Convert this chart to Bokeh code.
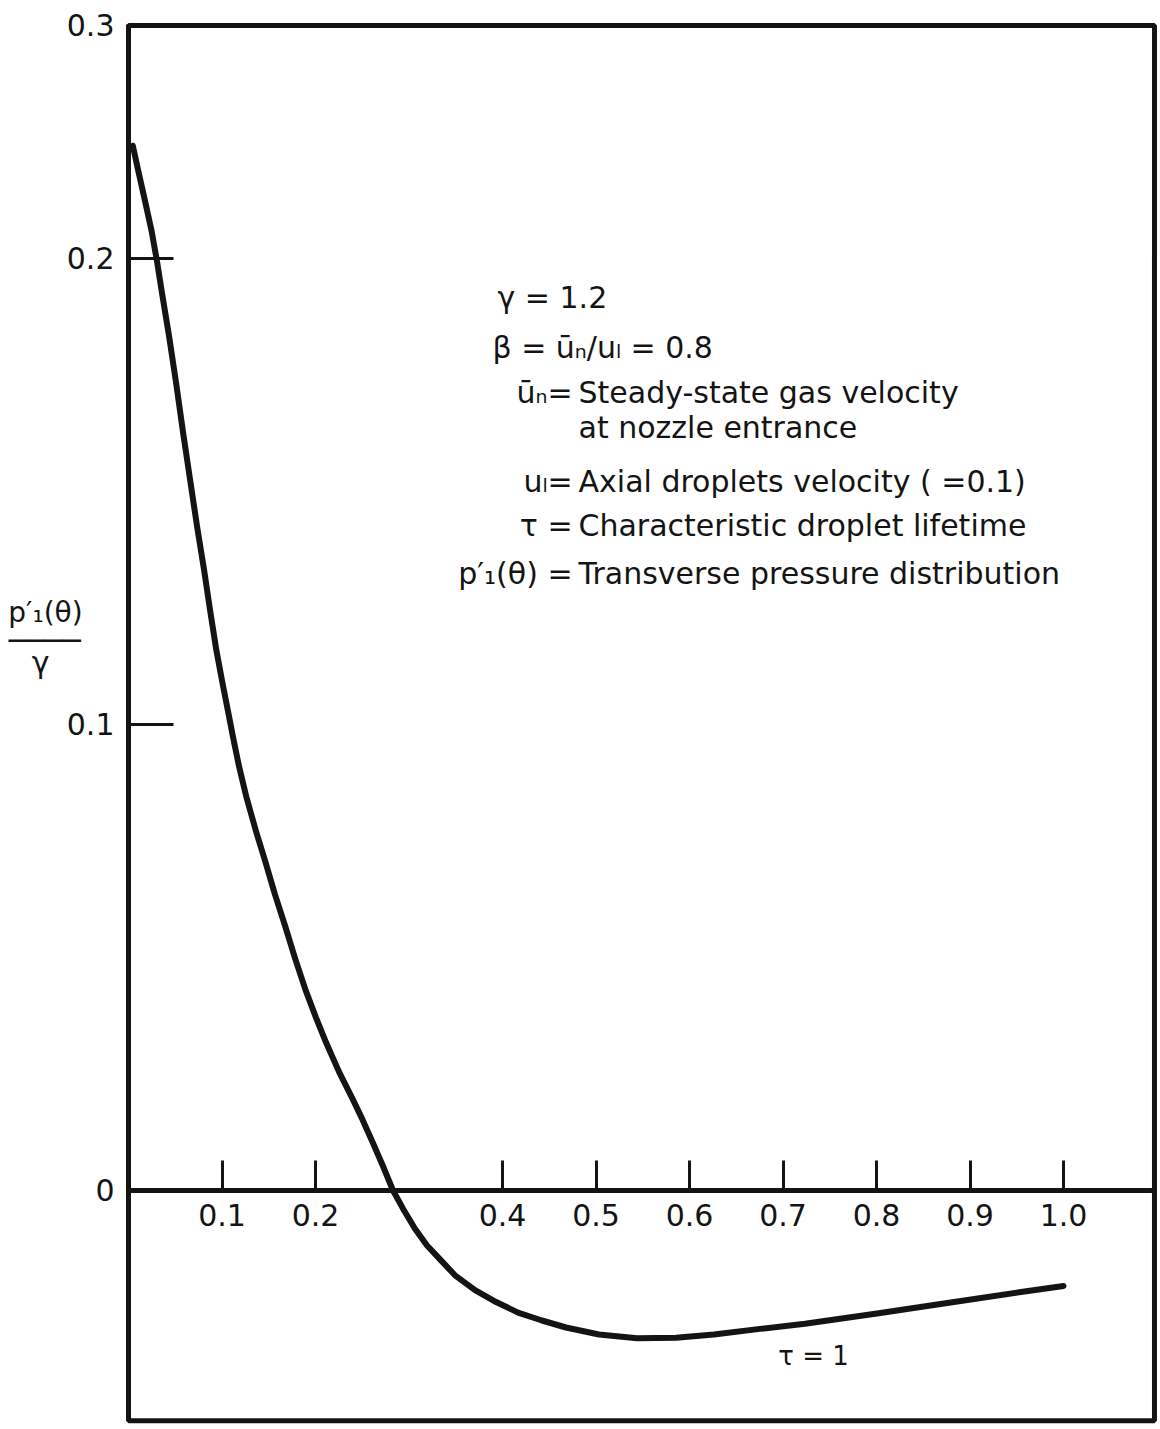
from bokeh.plotting import figure
from bokeh.models import LinearAxis, FixedTicker, BoxAnnotation, Label, Range1d
from bokeh.embed import file_html
from bokeh.resources import INLINE

# ---- data (tau = 1) ----
theta = [0.0046, 0.0101, 0.0175, 0.0248, 0.0303, 0.0359, 0.0434, 0.0509, 0.0584, 0.0659,
         0.0734, 0.0808, 0.0872, 0.0939, 0.1005, 0.1061, 0.1117, 0.1180, 0.1260, 0.1359,
         0.1457, 0.1567, 0.1676, 0.1785, 0.1894, 0.2003, 0.2112, 0.2253, 0.2395, 0.2503,
         0.2612, 0.2720, 0.2829, 0.2936, 0.3064, 0.3193, 0.3342, 0.3492, 0.3706, 0.3909,
         0.4166, 0.4422, 0.4679, 0.5032, 0.5439, 0.5856, 0.6262, 0.6754, 0.7235, 0.8005,
         0.8775, 0.9545, 1.0]
p1_over_gamma = [0.2242, 0.2191, 0.2125, 0.2058, 0.1996, 0.1925, 0.1833, 0.1733, 0.1626, 0.1525,
                 0.1424, 0.1332, 0.1246, 0.1160, 0.1089, 0.1032, 0.0974, 0.0912, 0.0845, 0.0774,
                 0.0710, 0.0635, 0.0567, 0.0496, 0.0430, 0.0372, 0.0318, 0.0254, 0.0197, 0.0152,
                 0.0103, 0.0053, 0.0, -0.0039, -0.0082, -0.0118, -0.0150, -0.0182, -0.0214, -0.0237,
                 -0.0262, -0.0279, -0.0294, -0.0309, -0.0317, -0.0316, -0.0309, -0.0297, -0.0286, -0.0264,
                 -0.0241, -0.0218, -0.0205]

x_ticks = [0.1, 0.2, 0.4, 0.5, 0.6, 0.7, 0.8, 0.9, 1.0]
x_tick_labels = ["0.1", "0.2", "0.4", "0.5", "0.6", "0.7", "0.8", "0.9", "1.0"]
y_ticks = [0, 0.1, 0.2, 0.25]
y_tick_labels = ["0", "0.1", "0.2", "0.3"]

note_left = ["γ = 1.2", "β = ūₙ/uₗ = 0.8", "ūₙ=", "", "uₗ=", "τ =", "p′₁(θ) ="]
note_right = ["", "", "Steady-state gas velocity", "at nozzle entrance",
              "Axial droplets velocity ( =0.1)", "Characteristic droplet lifetime",
              "Transverse pressure distribution"]
curve_label = "τ = 1"
y_label_top = "p′₁(θ)"
y_label_bottom = "γ"

INK = "#141414"
FONT = "DejaVu Sans"

p = figure(width=1158, height=1427,
           x_range=Range1d(-0.13690, 1.10160), y_range=Range1d(-0.05086, 0.25536),
           x_axis_location=None, y_axis_location=None,
           toolbar_location=None, output_backend="svg",
           min_border=0, min_border_left=0, min_border_right=0,
           min_border_top=0, min_border_bottom=0,
           outline_line_color=None,
           background_fill_color="white", border_fill_color="white")
p.xgrid.visible = False
p.ygrid.visible = False

# frame box (left edge at theta = 0)
p.add_layout(BoxAnnotation(left=0, right=1.0973, bottom=-0.0494, top=0.25,
                           fill_color=None, fill_alpha=0,
                           line_color=INK, line_alpha=1.0, line_width=5))

# x axis drawn along p = 0
xaxis = LinearAxis(fixed_location=0, bounds=(0, 1.0973),
                   ticker=FixedTicker(ticks=x_ticks),
                   major_label_overrides=dict(zip(x_ticks, x_tick_labels)),
                   axis_line_width=5, axis_line_color=INK,
                   major_tick_in=30, major_tick_out=0, major_tick_line_width=3,
                   major_tick_line_color=INK,
                   minor_tick_in=0, minor_tick_out=0,
                   major_label_standoff=14,
                   major_label_text_font=FONT, major_label_text_font_size="30px",
                   major_label_text_color=INK)
p.add_layout(xaxis, "below")

yaxis = LinearAxis(fixed_location=0, bounds=(-0.0494, 0.2502),
                   ticker=FixedTicker(ticks=y_ticks),
                   major_label_overrides=dict(zip(y_ticks, y_tick_labels)),
                   axis_line_width=5, axis_line_color=INK,
                   major_tick_in=45, major_tick_out=0, major_tick_line_width=3,
                   major_tick_line_color=INK,
                   minor_tick_in=0, minor_tick_out=0,
                   major_label_standoff=14,
                   major_label_text_font=FONT, major_label_text_font_size="30px",
                   major_label_text_color=INK)
p.add_layout(yaxis, "left")

# the curve
p.line(theta, p1_over_gamma, line_width=6, line_color=INK, line_join="round", line_cap="round")

# notes block
note_y = [0.1916, 0.1809, 0.1712, 0.1637, 0.1521, 0.1427, 0.1324]
for i, (lt, rt) in enumerate(zip(note_left, note_right)):
    y = note_y[i]
    if i < 2:
        x0 = 0.3947 if i == 0 else 0.3893
        p.add_layout(Label(x=x0, y=y, text=lt, text_align="left", text_baseline="middle",
                           text_font=FONT, text_font_size="30px", text_color=INK))
        continue
    if lt:
        p.add_layout(Label(x=0.4749, y=y, text=lt, text_align="right", text_baseline="middle",
                           text_font=FONT, text_font_size="30px", text_color=INK))
    if rt:
        p.add_layout(Label(x=0.4813, y=y, text=rt, text_align="left", text_baseline="middle",
                           text_font=FONT, text_font_size="30px", text_color=INK))

p.add_layout(Label(x=0.695, y=-0.0356, text=curve_label, text_align="left", text_baseline="middle",
                   text_font=FONT, text_font_size="26px", text_color=INK))

# y label as a fraction
p.add_layout(Label(x=-0.0888, y=0.1240, text=y_label_top, text_align="center", text_baseline="middle",
                   text_font=FONT, text_font_size="28px", text_color=INK))
p.add_layout(Label(x=-0.0898, y=0.1180, text="────", text_align="center", text_baseline="middle",
                   text_font="DejaVu Sans Mono", text_font_size="30px", text_color=INK))
p.add_layout(Label(x=-0.0941, y=0.1133, text=y_label_bottom, text_align="center", text_baseline="middle",
                   text_font=FONT, text_font_size="30px", text_color=INK))

open("out.html", "w").write(file_html(p, INLINE))
